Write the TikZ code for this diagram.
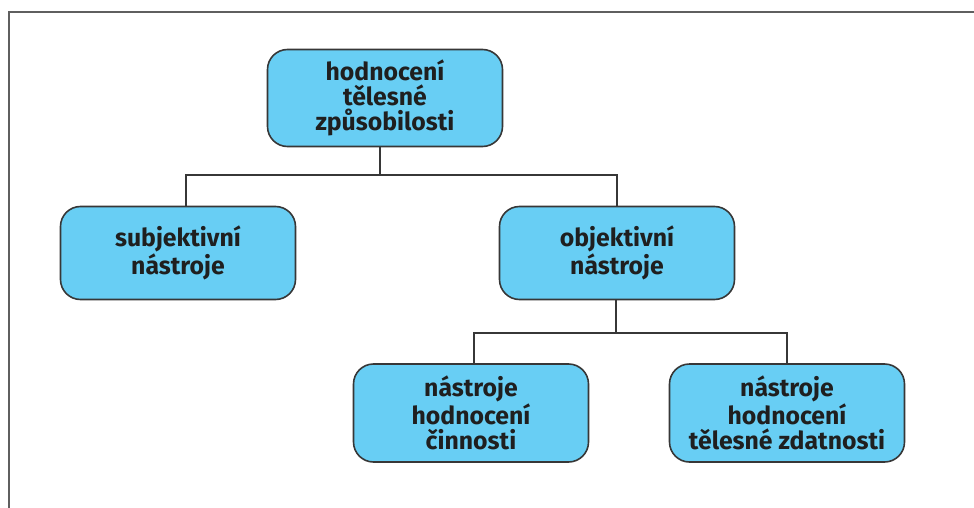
\documentclass[tikz,border=0pt]{standalone}
\usepackage{fontspec}
\setmainfont{Fira Sans}
\definecolor{boxblue}{RGB}{104,206,244}
\definecolor{boxline}{RGB}{55,55,55}
\definecolor{frameline}{RGB}{95,95,95}
\begin{document}
\begin{tikzpicture}[x=0.5pt,y=-0.5pt]
	\tikzstyle{every node}+=[inner sep=0pt]
	\tikzstyle{box}=[draw=boxline, line width=0.8pt, fill=boxblue, rounded corners=10pt, minimum width=117.5pt, minimum height=48.5pt, align=center, text=black!88, font=\bfseries\fontsize{12.4}{12.4}\selectfont]
	\tikzstyle{link}=[draw=boxline, line width=0.7pt]
	\useasboundingbox (0,0) rectangle (974,508);
	\draw [frameline, line width=1.3pt] (9,508) -- (9,12) -- (974,12);
	\node [box] (top) at (385,98) {hodnocení\\tělesné\\způsobilosti};
	\node [box, minimum height=46.5pt] (subj) at (178,253) {subjektivní\\nástroje};
	\node [box, minimum height=46.5pt] (obj) at (617,253) {objektivní\\nástroje};
	\node [box, minimum height=49pt] (act) at (471,413) {nástroje\\hodnocení\\činnosti};
	\node [box, minimum height=49pt] (fit) at (787,413) {nástroje\\hodnocení\\tělesné zdatnosti};
	\coordinate (split1) at (380,175);
	\coordinate (split2) at (616,333);
	\draw [link] ([xshift=4pt]subj.north) |- (split1) -| (obj.north);
	\draw [link] (split1) -- (split1 |- top.south);
	\draw [link] ([xshift=1.5pt]act.north) |- (split2) -| (fit.north);
	\draw [link] (split2) -- (split2 |- obj.south);
\end{tikzpicture}
\end{document}
